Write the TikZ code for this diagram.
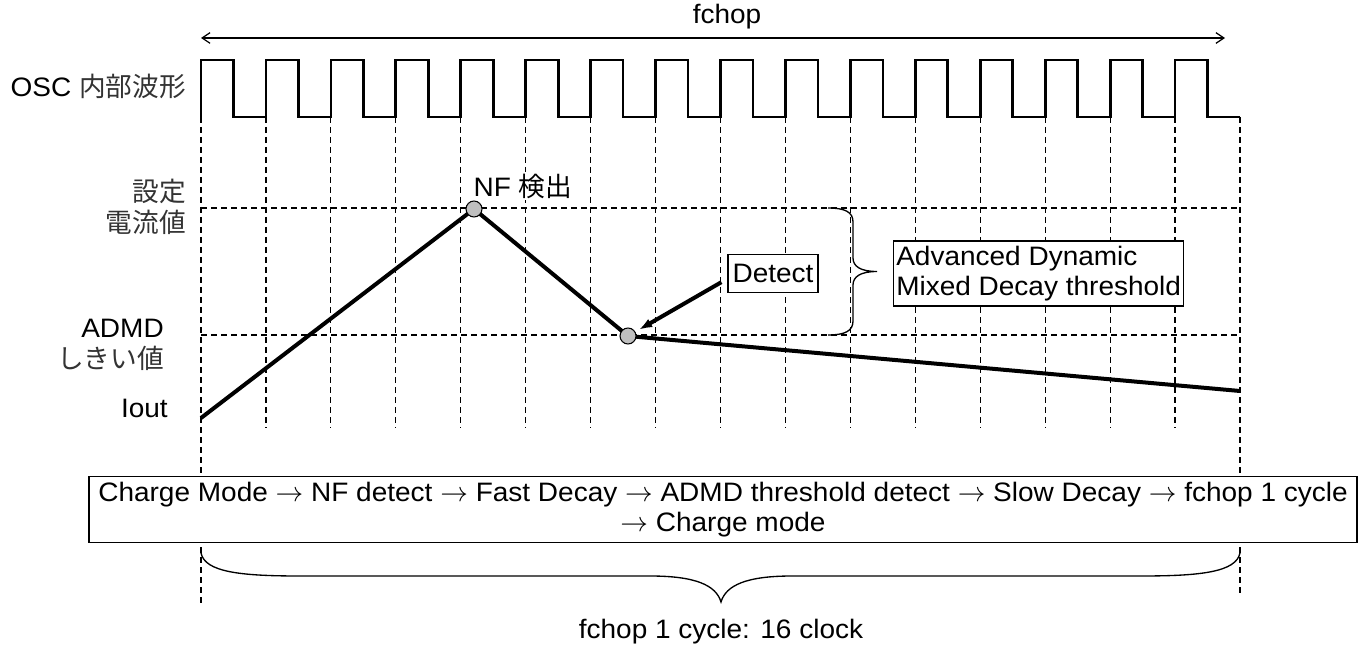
\documentclass[tikz,border=0pt]{standalone}
\usepackage{fontspec}
\setmainfont{Liberation Sans}[FakeStretch=1.05]
\newfontfamily\jpfont{Noto Sans CJK JP}
\usepackage{tikz}
\usetikzlibrary{arrows.meta,positioning,calc}

\begin{document}
\begin{tikzpicture}[
  x=0.75pt,y=-0.75pt,
  every node/.style={font=\fontsize{20}{23}\selectfont,inner sep=0pt},
  lbl/.style={anchor=east,align=right},
  jp/.style={font=\fontsize{20}{23}\selectfont\jpfont,text=black!80},
  frame/.style={draw,line width=0.9pt,fill=white},
  grid/.style={line width=0.9pt,dash pattern=on 4.5pt off 3pt},
  wave/.style={line width=2pt,line join=miter},
  curr/.style={line width=3pt,line join=round},
  dot/.style={circle,draw,line width=0.8pt,fill=gray!50,minimum size=12pt},
  brace/.style={line width=1pt},
  span/.style={{Straight Barb[length=6pt,width=8pt]}-{Straight Barb[length=6pt,width=8pt]},line width=0.9pt},
  pointer/.style={-{Latex[length=10pt,width=7pt]},line width=3pt,shorten >=3pt}
]
  \useasboundingbox (0,0) rectangle (1365,649);

  % Clock grid: one dashed line per rising edge, levels as horizontal lines.
  \foreach \k in {1,...,15}
    \draw[grid] ({201+\k*64.9375},117) -- ++(0,311);
  \draw[grid] (201,117) -- (201,606);
  \draw[grid] (1240,117) -- (1240,593);
  \draw[grid] (201,208) -- (1240,208);
  \draw[grid] (201,335) -- (1240,335);

  % OSC waveform, 16 periods.
  \draw[wave] (201,117) \foreach \k in {1,...,16} { -- ++(0,-57) -- ++(32.47,0) -- ++(0,57) -- ++(32.47,0) };

  % Coil current: charge, fast decay, slow decay.
  \coordinate (iout0) at (201,418);
  \coordinate (nf) at (474,209);
  \coordinate (admd) at (628,336);
  \coordinate (iout1) at (1240,391);
  \draw[curr] (iout0) -- (nf) -- (admd) -- (iout1);
  \node[dot] (nfpt) at (nf) {};
  \node[dot] (admdpt) at (admd) {};

  % Row labels on the left.
  \node[lbl] (osclbl) at (186,86) {OSC {\jpfont\color{black!80}内部波形}};
  \node[lbl,jp] (setlbl) at (186,207) {設定\\電流値};
  \node[lbl] (admdlbl) at (164,345) {ADMD\\{\jpfont\color{black!80}しきい値}};
  \node[lbl] (ioutlbl) at (168,408) {Iout};

  % chopping period on top.
  \node (fchoplbl) at (727,17) {fchop};
  \coordinate (chopL) at (201,38);
  \coordinate (chopR) at (1225,38);
  \draw[span] (chopL) -- (chopR);

  \node[anchor=west,fill=white,inner sep=1pt] (nflbl) at (472,186) {NF {\jpfont 検出}};

  % Detection callout and threshold window.
  \node[frame,minimum width=67.5pt,minimum height=29pt] (detect) at (773,273.5) {Detect};
  \draw[pointer] ([xshift=-4.5pt,yshift=-6.5pt]detect.west) -- (admdpt);
  \draw[brace] (828,208) .. controls (845,208) and (853,212) .. (853,222) -- (853,258)
    .. controls (853,266) and (860,271.5) .. (877,271.5)
    .. controls (860,271.5) and (853,277) .. (853,285) -- (853,321)
    .. controls (853,331) and (845,335) .. (828,335);
  \node[frame,anchor=west,align=left,inner sep=2pt,minimum height=48.75pt] (admdbox) at (893,273.5) {Advanced Dynamic\\Mixed Decay threshold};

  % Sequence box and one-cycle span.
  \node[frame,align=center,inner sep=1pt,minimum width=951pt,minimum height=50pt] (flowbox) at (723,509.5)
    {Charge Mode $\rightarrow$ NF detect $\rightarrow$ Fast Decay $\rightarrow$ ADMD threshold detect $\rightarrow$ Slow Decay $\rightarrow$ fchop 1 cycle\\$\rightarrow$ Charge mode};
  \draw[brace] (201,553) .. controls (205,572) and (240,576) .. (300,576) -- (650,576)
    .. controls (695,576) and (716,585) .. (721,602)
    .. controls (726,585) and (747,576) .. (792,576) -- (1141,576)
    .. controls (1201,576) and (1236,572) .. (1240,553);
  \node (cyclelbl) at (721,632) {fchop 1 cycle: 16 clock};
\end{tikzpicture}
\end{document}
